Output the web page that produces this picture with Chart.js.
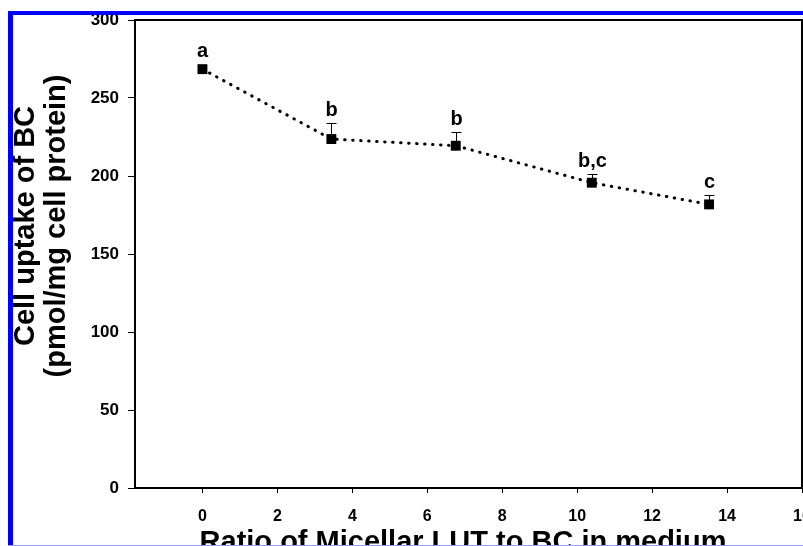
<!DOCTYPE html>
<html>
<head>
<meta charset="utf-8">
<script src="https://cdn.jsdelivr.net/npm/chart.js@4.4.0/dist/chart.umd.min.js"></script>
<style>
  html, body { margin: 0; padding: 0; background: #fff; }
  #wrap { width: 803px; height: 546px; }
</style>
</head>
<body>
<div id="wrap"><canvas id="uptake-chart" width="803" height="546"></canvas></div>
<script>
// ratio of micellar LUT to BC (x) and cell uptake of BC (y)
let ratios = [0, 3.44, 6.76, 10.39, 13.52];
let uptake = [268.5, 223.7, 219.4, 195.7, 181.8];
let uptakeErr = [0, 10.3, 9.0, 5.3, 6.2];
let groupLetters = ["a", "b", "b", "b,c", "c"];

// tick labels
let xTicks = [0, 2, 4, 6, 8, 10, 12, 14, 16];
let yTicks = [0, 50, 100, 150, 200, 250, 300];

let yTitleLines = ["Cell uptake of BC", "(pmol/mg cell protein)"];
let xTitle = "Ratio of Micellar LUT to BC in medium";

let fontFamily = "'Liberation Sans', Arial, sans-serif";

/* draws the frame, error bars, letters, axis titles and the blue edge */
let decorPlugin = {
  id: "decor",
  afterDatasetsDraw(chart) {
    let ctx = chart.ctx;
    let xs = chart.scales.x;
    let ys = chart.scales.y;
    let area = chart.chartArea;
    ctx.save();

    // box round the plot
    ctx.strokeStyle = "#000";
    ctx.lineWidth = 2;
    ctx.strokeRect(area.left, area.top, area.right - area.left, area.bottom - area.top);

    // upper error bars + significance letters
    ctx.lineWidth = 1;
    ctx.fillStyle = "#000";
    ctx.font = "bold 20px " + fontFamily;
    ctx.textAlign = "center";
    ctx.textBaseline = "alphabetic";
    for (let i = 0; i < ratios.length; i++) {
      let px = Math.round(xs.getPixelForValue(ratios[i])) + 0.5;
      let py = ys.getPixelForValue(uptake[i]);
      let top = ys.getPixelForValue(uptake[i] + uptakeErr[i]);
      if (uptakeErr[i] > 0) {
        let capY = Math.round(top) + 0.5;
        ctx.beginPath();
        ctx.moveTo(px, py);
        ctx.lineTo(px, capY);
        ctx.moveTo(px - 5, capY);
        ctx.lineTo(px + 5, capY);
        ctx.stroke();
      }
      let labelY = Math.min(top, py - 5) - 7;
      ctx.fillText(groupLetters[i], px, labelY);
    }
    ctx.restore();
  },
  afterDraw(chart) {
    let ctx = chart.ctx;
    ctx.save();
    ctx.fillStyle = "#000";
    ctx.font = "bold 29px " + fontFamily;
    ctx.textBaseline = "alphabetic";

    // x axis title (runs off the bottom edge like the original)
    ctx.textAlign = "center";
    ctx.fillText(xTitle, 463, 551);

    // y axis title, two lines
    ctx.translate(0, 226);
    ctx.rotate(-Math.PI / 2);
    ctx.fillText(yTitleLines[0], 0, 34);
    ctx.fillText(yTitleLines[1], 0, 65);
    ctx.restore();

    // blue edge of the figure
    ctx.save();
    ctx.fillStyle = "#0000ff";
    ctx.fillRect(8, 11, 795, 4);
    ctx.fillRect(8, 11, 5, 535);
    ctx.fillStyle = "#9a9af0";
    ctx.fillRect(8, 545, 795, 1);
    ctx.restore();
  },
};

let context = document.querySelector("#uptake-chart").getContext("2d");

let uptakeChart = new Chart(context, {
  type: "line",
  data: {
    datasets: [
      {
        label: "Cell uptake",
        data: ratios.map((r, i) => ({ x: r, y: uptake[i] })),
        borderColor: "#000",
        borderWidth: 3,
        borderDash: [0.5, 7.5],
        borderCapStyle: "round",
        tension: 0,
        fill: false,
        pointStyle: "rect",
        pointRadius: 7,
        pointBackgroundColor: "#000",
        pointBorderColor: "#000",
        pointBorderWidth: 0,
      },
    ],
  },
  options: {
    responsive: false,
    animation: false,
    devicePixelRatio: 1,
    layout: { autoPadding: false, padding: { top: 20, right: 1, bottom: 0, left: 0 } },
    plugins: {
      legend: { display: false },
      tooltip: { enabled: false },
    },
    scales: {
      x: {
        type: "linear",
        min: -1.8,
        max: 16,
        afterBuildTicks(scale) {
          scale.ticks = xTicks.map((v) => ({ value: v }));
        },
        afterFit(scale) {
          scale.height = 58;
          scale.paddingLeft = 0;
          scale.paddingRight = 0;
        },
        grid: { drawOnChartArea: false, drawTicks: true, tickLength: 5, color: "#000", lineWidth: 1 },
        border: { display: true, color: "#000", width: 2 },
        ticks: {
          color: "#000",
          font: { family: fontFamily, size: 16, weight: "bold" },
          padding: 14,
          maxRotation: 0,
          autoSkip: false,
        },
      },
      y: {
        min: 0,
        max: 300,
        afterBuildTicks(scale) {
          scale.ticks = yTicks.map((v) => ({ value: v }));
        },
        afterFit(scale) {
          scale.width = 135;
          scale.paddingTop = 0;
          scale.paddingBottom = 0;
        },
        grid: { drawOnChartArea: false, drawTicks: true, tickLength: 7, color: "#000", lineWidth: 1 },
        border: { display: true, color: "#000", width: 2 },
        ticks: {
          color: "#000",
          font: { family: fontFamily, size: 17, weight: "bold" },
          padding: 9,
        },
      },
    },
  },
  plugins: [decorPlugin],
});
</script>
</body>
</html>
